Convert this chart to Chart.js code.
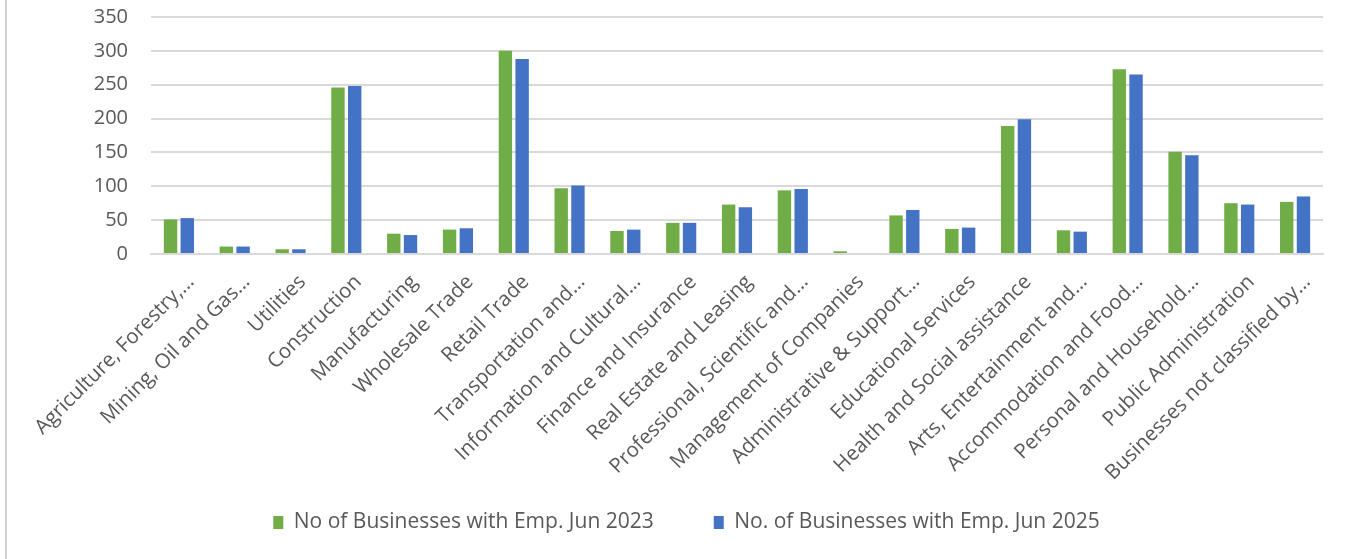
<!DOCTYPE html>
<html>
<head>
<meta charset="utf-8">
<script src="https://cdn.jsdelivr.net/npm/chart.js@4.4.1/dist/chart.umd.min.js"></script>
<style>
  html, body { margin: 0; padding: 0; background: #ffffff; }
  #wrap { position: relative; width: 1351px; height: 559px; }
  #frame { position: absolute; left: 5px; top: 0; width: 2px; height: 559px; background: #d0d0d0; }
  canvas { position: absolute; left: 0; top: 0; }
</style>
</head>
<body>
<div id="wrap">
  <canvas id="chart" width="1351" height="559"></canvas>
  <div id="frame"></div>
</div>
<script>
// Industry categories (as shown on the axis)
const categories = [
  "Agriculture, Forestry,…",
  "Mining, Oil and Gas…",
  "Utilities",
  "Construction",
  "Manufacturing",
  "Wholesale Trade",
  "Retail Trade",
  "Transportation and…",
  "Information and Cultural…",
  "Finance and Insurance",
  "Real Estate and Leasing",
  "Professional, Scientific and…",
  "Management of Companies",
  "Administrative & Support…",
  "Educational Services",
  "Health and Social assistance",
  "Arts, Entertainment and…",
  "Accommodation and Food…",
  "Personal and Household…",
  "Public Administration",
  "Businesses not classified by…"
];

// Number of businesses with employees, June 2023
const jun2023 = [51, 11, 7, 246, 30, 36, 300, 97, 34, 46, 73, 94, 4, 57, 37, 189, 35, 273, 151, 75, 77];

// Number of businesses with employees, June 2025
const jun2025 = [53, 11, 7, 248, 28, 38, 288, 101, 36, 46, 69, 96, 0, 65, 39, 199, 33, 265, 146, 73, 85];

const seriesNames = ["No of Businesses with Emp. Jun 2023", "No. of Businesses with Emp. Jun 2025"];

// Value axis ticks
const yTicks = [0, 50, 100, 150, 200, 250, 300, 350];

const FONT = "'Open Sans', Lato, sans-serif";
const TEXT = "#595959";
const GRID = "#d9d9d9";

new Chart(document.getElementById("chart"), {
  type: "bar",
  data: {
    labels: categories,
    datasets: [
      { label: seriesNames[0], data: jun2023, backgroundColor: "#70ad47" },
      { label: seriesNames[1], data: jun2025, backgroundColor: "#4472c4" }
    ]
  },
  options: {
    responsive: false,
    animation: false,
    layout: { padding: { top: 17, right: 28, bottom: 16, left: 50 } },
    datasets: { bar: { categoryPercentage: 0.6, barPercentage: 0.8 } },
    plugins: {
      legend: {
        position: "bottom",
        labels: {
          font: { family: FONT, size: 21 },
          color: TEXT,
          boxWidth: 10,
          boxHeight: 13,
          padding: 60
        }
      },
      tooltip: { enabled: false }
    },
    scales: {
      x: {
        grid: { display: false },
        border: { display: true, color: GRID, width: 2 },
        ticks: {
          autoSkip: false,
          maxRotation: 45,
          minRotation: 45,
          labelOffset: 12,
          padding: 8,
          font: { family: FONT, size: 20.5 },
          color: TEXT
        },
        afterFit: (scale) => {
          scale.height = 198;
          scale.paddingTop = 0;
          scale.paddingBottom = 0;
          // let the long slanted category names run past the axis box
          scale._computeLabelArea = () => undefined;
        }
      },
      y: {
        min: 0,
        max: 350,
        afterBuildTicks: (scale) => { scale.ticks = yTicks.map(v => ({ value: v })); },
        grid: { color: GRID, lineWidth: 2, drawTicks: false },
        border: { display: false },
        ticks: {
          padding: 23,
          font: { family: FONT, size: 20 },
          color: TEXT
        },
        afterFit: (scale) => { scale.width = 101; scale.paddingTop = 0; scale.paddingBottom = 0; }
      }
    }
  }
});
</script>
</body>
</html>
